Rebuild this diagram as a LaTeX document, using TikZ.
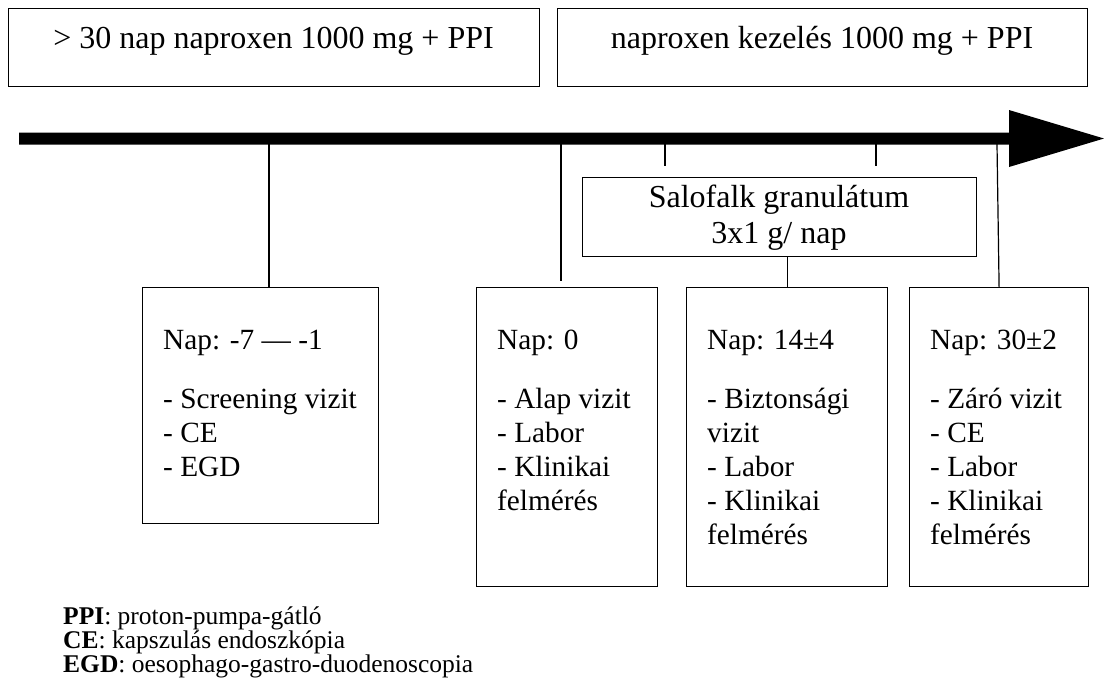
\documentclass[tikz,border=0pt]{standalone}
\usepackage{fontspec}
\setmainfont{Liberation Serif}
\begin{document}
\begin{tikzpicture}[x=1pt,y=-1pt,
  box/.style={draw, line width=1.2pt, rectangle, inner sep=0pt, anchor=north west},
  conn/.style={line width=1.2pt},
  big/.style={font=\fontsize{32}{36.8}\selectfont, anchor=base, inner sep=0pt},
  body/.style={font=\fontsize{29.3}{34}\selectfont, anchor=base west, inner sep=0pt},
  leg/.style={font=\fontsize{25.5}{24}\selectfont, anchor=base west, inner sep=0pt}]
\useasboundingbox (0,0) rectangle (1104,691);

% top boxes
\node[box, minimum width=531pt, minimum height=78pt] (top1) at (8,8) {};
\node[big] (top1t) at (273.5,48) {> 30 nap naproxen 1000 mg + PPI};
\node[box, minimum width=530pt, minimum height=78pt] (top2) at (557,8) {};
\node[big] (top2t) at (822,48) {naproxen kezelés 1000 mg + PPI};

% timeline
\fill (19,132.5) -- (1009,132.5) -- (1009,110) -- (1104,138.5) -- (1009,167) -- (1009,144.5) -- (19,144.5) -- cycle;
\coordinate (t1) at (269,144);
\coordinate (t2) at (561,144);
\coordinate (t3) at (665,144);
\coordinate (t3e) at (665,166);
\coordinate (t4) at (876,144);
\coordinate (t4e) at (876,166);
\coordinate (t5) at (997,144);

% Salofalk
\node[box, minimum width=394pt, minimum height=79pt] (salo) at (582,177) {};
\node[big] (salo1) at (779,207) {Salofalk granulátum};
\node[big] (salo2) at (779,243) {3x1 g/ nap};

% visit boxes
\node[box, minimum width=236pt, minimum height=236pt] (boxA) at (142,287) {};
\node[box, minimum width=181pt, minimum height=299pt] (boxB) at (476,287) {};
\node[box, minimum width=201pt, minimum height=299pt] (boxC) at (686,287) {};
\node[box, minimum width=179pt, minimum height=299pt] (boxD) at (909,287) {};

% connectors
\draw[conn] (t1) -- (t1 |- boxA.north);
\draw[conn] (t2) -- ([yshift=6pt]t2 |- boxB.north);
\draw[conn] (t3) -- (t3e);
\draw[conn] (t4) -- (t4e);
\draw[conn] (salo.south -| boxC.north) -- (boxC.north);
\draw[conn] (t5) -- (boxD.north);

% box A text
\node[body] (a0) at (163,349) {Nap: -7 — -1};
\node[body] (a1) at (163,408) {- Screening vizit};
\node[body] (a2) at (163,442) {- CE};
\node[body] (a3) at (163,476) {- EGD};

% box B text
\node[body] (b0) at (497,349) {Nap: 0};
\node[body] (b1) at (497,408) {- Alap vizit};
\node[body] (b2) at (497,442) {- Labor};
\node[body] (b3) at (497,476) {- Klinikai};
\node[body] (b4) at (497,510) {felmérés};

% box C text
\node[body] (c0) at (707,349) {Nap: 14±4};
\node[body] (c1) at (707,408) {- Biztonsági};
\node[body] (c2) at (707,442) {vizit};
\node[body] (c3) at (707,476) {- Labor};
\node[body] (c4) at (707,510) {- Klinikai};
\node[body] (c5) at (707,544) {felmérés};

% box D text
\node[body] (d0) at (930,349) {Nap: 30±2};
\node[body] (d1) at (930,408) {- Záró vizit};
\node[body] (d2) at (930,442) {- CE};
\node[body] (d3) at (930,476) {- Labor};
\node[body] (d4) at (930,510) {- Klinikai};
\node[body] (d5) at (930,544) {felmérés};

% legend
\node[leg] (l1) at (63,624) {\textbf{PPI}: proton-pumpa-gátló};
\node[leg] (l2) at (63,648) {\textbf{CE}: kapszulás endoszkópia};
\node[leg] (l3) at (63,672) {\textbf{EGD}: oesophago-gastro-duodenoscopia};
\end{tikzpicture}
\end{document}
